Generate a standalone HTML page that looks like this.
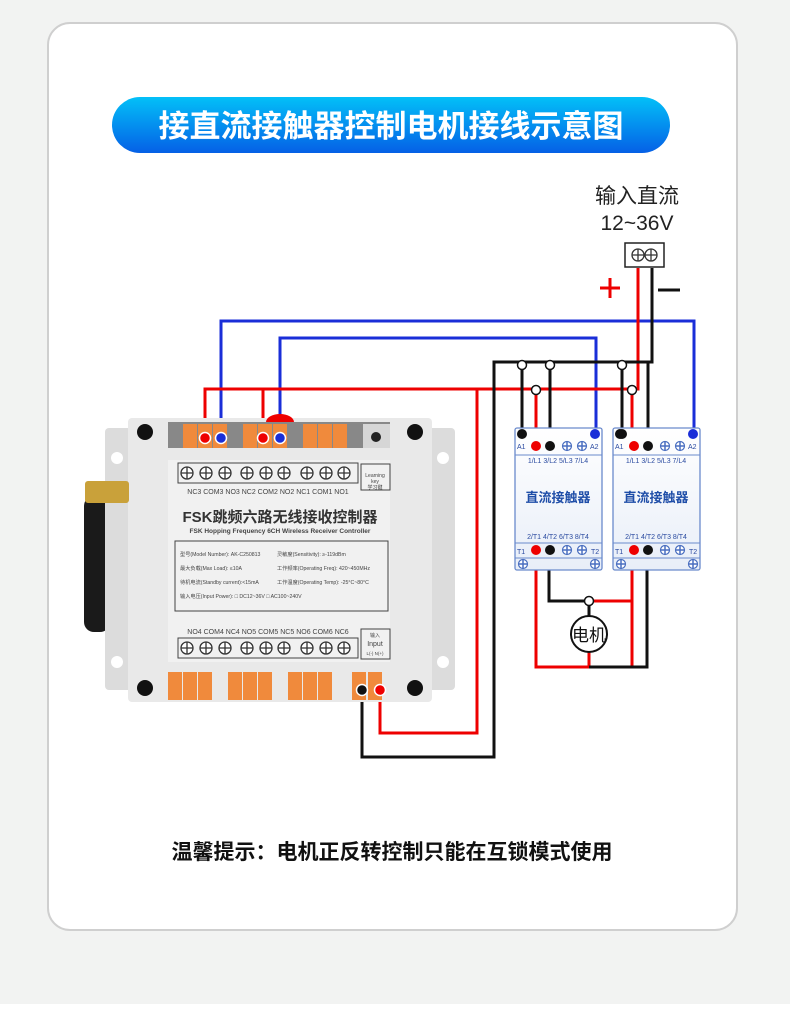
<!DOCTYPE html>
<html><head><meta charset="utf-8"><style>
html,body{margin:0;padding:0;background:#fff}
body{width:790px;height:1019px;overflow:hidden;font-family:"Liberation Sans","Noto Sans CJK SC",sans-serif}
</style></head><body>
<svg width="790" height="1019" viewBox="0 0 790 1019" xmlns="http://www.w3.org/2000/svg" font-family="Liberation Sans, Noto Sans CJK SC, sans-serif">
<defs>
<linearGradient id="pill" x1="0" y1="0" x2="0" y2="1"><stop offset="0" stop-color="#03c0f8"/><stop offset="1" stop-color="#0560e6"/></linearGradient>
<linearGradient id="ct" x1="0" y1="0" x2="0" y2="1"><stop offset="0" stop-color="#ffffff"/><stop offset="1" stop-color="#e8eef8"/></linearGradient>
<g id="sc"><circle r="6" fill="#fff" stroke="#333" stroke-width="1.3"/><path d="M-6 0H6M0 -6V6" stroke="#333" stroke-width="1.3"/></g>
<g id="bs"><circle r="4.5" fill="#fff" stroke="#4a6fc0" stroke-width="1.2"/><path d="M-4.5 0H4.5M0 -4.5V4.5" stroke="#4a6fc0" stroke-width="1.5"/></g>
</defs>
<rect width="790" height="1004" fill="#f2f3f2"/>
<rect x="48" y="23" width="689" height="907" rx="22" fill="#fff" stroke="#cfcfcf" stroke-width="2"/>
<rect x="112" y="97" width="558" height="56" rx="28" fill="url(#pill)"/>
<text x="391" y="137" text-anchor="middle" font-size="31" font-weight="bold" fill="#fff">接直流接触器控制电机接线示意图</text>

<text x="637" y="203" text-anchor="middle" font-size="21" fill="#222">输入直流</text>
<text x="637" y="230" text-anchor="middle" font-size="21" fill="#222">12~36V</text>
<rect x="625" y="243" width="39" height="24" fill="#fff" stroke="#222" stroke-width="1.5"/>
<use href="#sc" x="638" y="255"/><use href="#sc" x="651" y="255"/>
<path d="M600 288H620M610 278V298" stroke="#e00" stroke-width="3"/>
<path d="M658 290H680" stroke="#111" stroke-width="3"/>

<g fill="none" stroke-width="3">
<path d="M221 438V321H694V435" stroke="#1a2ed8"/>
<path d="M280 438V338H596V435" stroke="#1a2ed8"/>
<path d="M205 438V389H638V268" stroke="#e00"/>
<path d="M263 438V389" stroke="#e00"/>
<path d="M380 690V733H477V389" stroke="#e00"/>
<path d="M536 440V389M632 440V389" stroke="#e00"/>
<path d="M652 268V362H494V757H362V690" stroke="#111"/>
<path d="M522 433V362M550 440V362M622 433V362M648 440V362" stroke="#111"/>
<path d="M536 550V667H632V550" stroke="#e00"/>
<path d="M632 667H589V652" stroke="#e00"/>
<path d="M589 667H647V550" stroke="#111"/>
<path d="M549 550V601H589V616" stroke="#111"/>
<path d="M589 601H632V550" stroke="#e00"/>
</g>
<g fill="#fff" stroke="#111" stroke-width="1.5">
<circle cx="522" cy="365" r="4.5"/><circle cx="550" cy="365" r="4.5"/><circle cx="622" cy="365" r="4.5"/>
<circle cx="536" cy="390" r="4.5"/><circle cx="632" cy="390" r="4.5"/><circle cx="589" cy="601" r="4.5"/>
</g>
<circle cx="589" cy="634" r="18" fill="#fff" stroke="#111" stroke-width="2"/>
<text x="589" y="641" text-anchor="middle" font-size="17" fill="#111">电机</text>

<g id="c1">
<rect x="515" y="428" width="87" height="142" rx="2" fill="url(#ct)" stroke="#6a8acc" stroke-width="1.3"/>
<path d="M515 455H602M515 543H602" stroke="#6a8acc" stroke-width="1"/>
<path d="M515 558H602" stroke="#6a8acc" stroke-width="1"/>
<circle cx="522" cy="434" r="5" fill="#111"/><circle cx="595" cy="434" r="5" fill="#1a2ed8"/>
<text x="517" y="449" font-size="7" fill="#2a4aa0">A1</text><text x="590" y="449" font-size="7" fill="#2a4aa0">A2</text>
<circle cx="536" cy="446" r="5" fill="#e00"/><circle cx="550" cy="446" r="5" fill="#111"/>
<use href="#bs" x="567" y="446"/><use href="#bs" x="582" y="446"/>
<text x="558" y="463" text-anchor="middle" font-size="7" fill="#2a4aa0">1/L1  3/L2  5/L3  7/L4</text>
<text x="558" y="502" text-anchor="middle" font-size="13" font-weight="bold" fill="#1f4ea8">直流接触器</text>
<text x="558" y="539" text-anchor="middle" font-size="7" fill="#2a4aa0">2/T1  4/T2  6/T3  8/T4</text>
<text x="517" y="554" font-size="7" fill="#2a4aa0">T1</text><text x="591" y="554" font-size="7" fill="#2a4aa0">T2</text>
<circle cx="536" cy="550" r="5" fill="#e00"/><circle cx="550" cy="550" r="5" fill="#111"/>
<use href="#bs" x="567" y="550"/><use href="#bs" x="582" y="550"/>
<use href="#bs" x="523" y="564"/><use href="#bs" x="595" y="564"/>
</g>
<use href="#c1" x="98" y="0"/>
<circle cx="622" cy="434" r="5" fill="#111"/>

<rect x="84" y="496" width="26" height="136" rx="10" fill="#1a1a1a"/>
<rect x="105" y="428" width="350" height="262" rx="4" fill="#dcdcdc"/>
<rect x="128" y="418" width="304" height="284" rx="4" fill="#e9e9e9"/>
<rect x="85" y="481" width="44" height="22" rx="3" fill="#c9a13a"/>
<circle cx="117" cy="458" r="6" fill="#fff"/><circle cx="443" cy="458" r="6" fill="#fff"/>
<circle cx="117" cy="662" r="6" fill="#fff"/><circle cx="443" cy="662" r="6" fill="#fff"/>
<rect x="168" y="422" width="222" height="26" fill="#888"/>
<g fill="#f08a3c">
<rect x="183" y="424" width="14" height="24"/><rect x="198" y="424" width="14" height="24"/><rect x="213" y="424" width="14" height="24"/>
<rect x="243" y="424" width="14" height="24"/><rect x="258" y="424" width="14" height="24"/><rect x="273" y="424" width="14" height="24"/>
<rect x="303" y="424" width="14" height="24"/><rect x="318" y="424" width="14" height="24"/><rect x="333" y="424" width="14" height="24"/>
<rect x="168" y="672" width="14" height="28"/><rect x="183" y="672" width="14" height="28"/><rect x="198" y="672" width="14" height="28"/>
<rect x="228" y="672" width="14" height="28"/><rect x="243" y="672" width="14" height="28"/><rect x="258" y="672" width="14" height="28"/>
<rect x="288" y="672" width="14" height="28"/><rect x="303" y="672" width="14" height="28"/><rect x="318" y="672" width="14" height="28"/>
<rect x="352" y="672" width="14" height="28"/><rect x="368" y="672" width="14" height="28"/>
</g>
<path d="M266 422a14 8 0 0 1 28 0z" fill="#e00"/>
<rect x="363" y="424" width="27" height="24" fill="#d6d6d6"/><circle cx="376" cy="437" r="5" fill="#222"/>
<circle cx="145" cy="432" r="8" fill="#111"/><circle cx="415" cy="432" r="8" fill="#111"/>
<circle cx="145" cy="688" r="8" fill="#111"/><circle cx="415" cy="688" r="8" fill="#111"/>
<circle cx="205" cy="438" r="5.5" fill="#e00" stroke="#fff" stroke-width="1.5"/><circle cx="221" cy="438" r="5.5" fill="#1a2ed8" stroke="#fff" stroke-width="1.5"/>
<circle cx="263" cy="438" r="5.5" fill="#e00" stroke="#fff" stroke-width="1.5"/><circle cx="280" cy="438" r="5.5" fill="#1a2ed8" stroke="#fff" stroke-width="1.5"/>
<circle cx="362" cy="690" r="5.5" fill="#111" stroke="#fff" stroke-width="1.5"/><circle cx="380" cy="690" r="5.5" fill="#e00" stroke="#fff" stroke-width="1.5"/>
<rect x="168" y="460" width="222" height="202" fill="#f1f1f1"/>
<rect x="178" y="463" width="180" height="20" fill="none" stroke="#444" stroke-width="1"/>
<use href="#sc" x="187" y="473"/><use href="#sc" x="206" y="473"/><use href="#sc" x="225" y="473"/>
<use href="#sc" x="247" y="473"/><use href="#sc" x="266" y="473"/><use href="#sc" x="284" y="473"/>
<use href="#sc" x="307" y="473"/><use href="#sc" x="326" y="473"/><use href="#sc" x="344" y="473"/>
<text x="268" y="494" text-anchor="middle" font-size="7" fill="#444">NC3  COM3  NO3  NC2  COM2  NO2  NC1  COM1  NO1</text>
<rect x="361" y="464" width="29" height="26" fill="none" stroke="#444" stroke-width="1"/>
<text x="375" y="477" text-anchor="middle" font-size="5" fill="#444">Learning</text><text x="375" y="483" text-anchor="middle" font-size="5" fill="#444">key</text><text x="375" y="489" text-anchor="middle" font-size="5" fill="#444">学习键</text>
<text x="280" y="522" text-anchor="middle" font-size="15" font-weight="bold" fill="#333">FSK跳频六路无线接收控制器</text>
<text x="280" y="533" text-anchor="middle" font-size="6.5" font-weight="bold" fill="#444">FSK Hopping Frequency 6CH Wireless Receiver Controller</text>
<rect x="175" y="541" width="213" height="70" fill="none" stroke="#444" stroke-width="1"/>
<g font-size="5.2" fill="#444">
<text x="180" y="556">型号(Model Number): AK-C250813</text><text x="277" y="556">灵敏度(Sensitivity): ≥-119dBm</text>
<text x="180" y="570">最大负载(Max Load): ≤10A</text><text x="277" y="570">工作频率(Operating Freq): 420~450MHz</text>
<text x="180" y="584">待机电流(Standby current):&lt;15mA</text><text x="277" y="584">工作温度(Operating Temp): -25°C~80°C</text>
<text x="180" y="598">输入电压(Input Power): □ DC12~36V □ AC100~240V</text>
</g>
<text x="268" y="634" text-anchor="middle" font-size="7" fill="#444">NO4  COM4  NC4  NO5  COM5  NC5  NO6  COM6  NC6</text>
<rect x="178" y="638" width="180" height="20" fill="none" stroke="#444" stroke-width="1"/>
<use href="#sc" x="187" y="648"/><use href="#sc" x="206" y="648"/><use href="#sc" x="225" y="648"/>
<use href="#sc" x="247" y="648"/><use href="#sc" x="266" y="648"/><use href="#sc" x="284" y="648"/>
<use href="#sc" x="307" y="648"/><use href="#sc" x="326" y="648"/><use href="#sc" x="344" y="648"/>
<rect x="361" y="629" width="29" height="30" fill="none" stroke="#444" stroke-width="1"/>
<text x="375" y="637" text-anchor="middle" font-size="5" fill="#444">输入</text><text x="375" y="646" text-anchor="middle" font-size="7" fill="#444">Input</text><text x="375" y="655" text-anchor="middle" font-size="4.5" fill="#444">L(-)  N(+)</text>

<text x="392" y="859" text-anchor="middle" font-size="21" font-weight="bold" fill="#111">温馨提示：电机正反转控制只能在互锁模式使用</text>
</svg>
</body></html>
